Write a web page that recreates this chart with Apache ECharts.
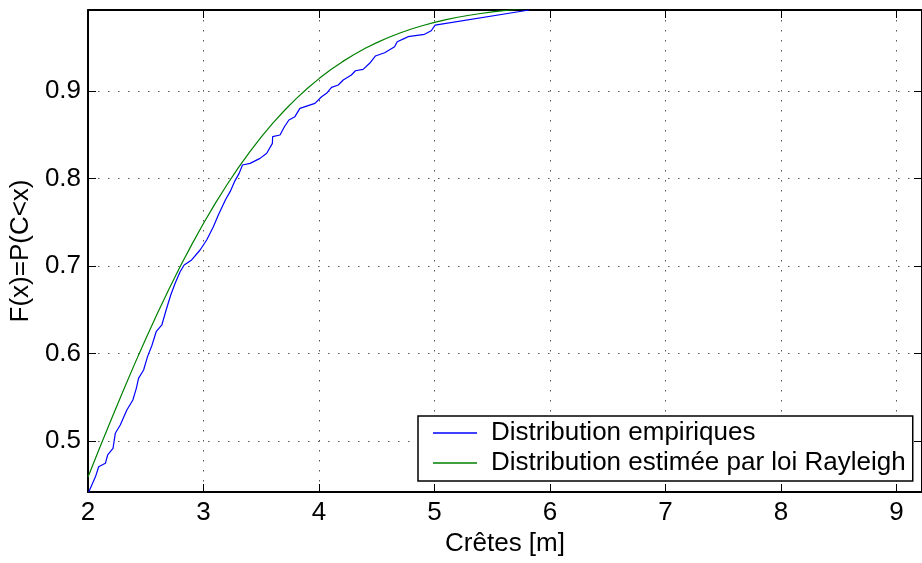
<!DOCTYPE html>
<html><head><meta charset="utf-8">
<script src="https://cdn.jsdelivr.net/npm/echarts@6/dist/echarts.min.js"></script>
<style>html,body{margin:0;padding:0;background:#fff}#c{width:922px;height:563px}</style>
</head><body><div id="c"></div>
<script>
const xTicks = [2, 3, 4, 5, 6, 7, 8, 9];
const yTicks = [0.5, 0.6, 0.7, 0.8, 0.9];
const seriesNames = ['Distribution empiriques', 'Distribution estimée par loi Rayleigh'];
const empX = [2.006,2.026,2.064,2.092,2.150,2.170,2.216,2.236,2.279,2.336,2.388,2.418,2.437,2.481,2.515,2.552,2.590,2.639,2.676,2.716,2.754,2.797,2.832,2.897,2.970,3.027,3.085,3.128,3.190,3.230,3.268,3.308,3.337,3.403,3.489,3.547,3.596,3.598,3.662,3.700,3.739,3.791,3.834,3.964,4.022,4.065,4.108,4.166,4.209,4.280,4.315,4.381,4.438,4.487,4.568,4.654,4.677,4.740,4.770,4.913,4.971,5.005,5.820];
const empY = [0.4417,0.4478,0.4590,0.4706,0.4745,0.4840,0.4916,0.5088,0.5183,0.5354,0.5469,0.5602,0.5716,0.5811,0.5964,0.6089,0.6249,0.6326,0.6497,0.6669,0.6802,0.6935,0.7011,0.7069,0.7183,0.7297,0.7449,0.7583,0.7758,0.7850,0.7964,0.8059,0.8154,0.8173,0.8230,0.8288,0.8402,0.8478,0.8497,0.8592,0.8669,0.8707,0.8802,0.8859,0.8935,0.8974,0.9042,0.9069,0.9126,0.9183,0.9232,0.9248,0.9317,0.9400,0.9438,0.9506,0.9563,0.9602,0.9621,0.9648,0.9689,0.9754,0.9926];
const rayX = [2.0,2.1,2.2,2.3,2.4,2.5,2.6,2.7,2.8,2.9,3.0,3.1,3.2,3.3,3.4,3.5,3.6,3.7,3.8,3.9,4.0,4.1,4.2,4.3,4.4,4.5,4.6,4.7,4.8,4.9,5.0,5.1,5.2,5.3,5.4,5.5,5.6,5.7,5.8,6.0];
const rayY = [0.4589,0.4919,0.5243,0.5561,0.5870,0.6169,0.6458,0.6734,0.6999,0.7250,0.7488,0.7713,0.7923,0.8121,0.8304,0.8475,0.8633,0.8777,0.8910,0.9032,0.9142,0.9243,0.9333,0.9415,0.9488,0.9553,0.9612,0.9663,0.9709,0.9749,0.9785,0.9816,0.9843,0.9866,0.9886,0.9904,0.9919,0.9932,0.9943,0.9960];

const FONT = "'Liberation Sans', Arial, Helvetica, sans-serif";
const FS = 26;
const X_MIN = 2, X_MAX = 9.22, Y_MIN = 0.4417, Y_MAX = 0.9926;

const gridLine = {show: true, lineStyle: {color: '#555', width: 1, type: [1.5, 8.5]}};
const axLine = {show: true, onZero: false, lineStyle: {color: '#000', width: 2}};
const tick = {show: true, inside: true, length: 8, lineStyle: {color: '#000', width: 1}};

const chart = echarts.init(document.getElementById('c'), null, {renderer: 'canvas'});
chart.setOption({
  animation: false,
  backgroundColor: '#fff',
  textStyle: {fontFamily: FONT},
  grid: {left: 84, top: 10, width: 838, height: 482, containLabel: false},
  xAxis: [{
    type: 'value', min: X_MIN, max: X_MAX, interval: 1,
    name: 'Crêtes [m]', nameLocation: 'middle', nameGap: 37,
    nameTextStyle: {fontSize: FS, color: '#000', fontFamily: FONT},
    axisLine: axLine, axisTick: tick, splitLine: gridLine,
    axisLabel: {show: true, margin: 8, fontSize: FS, color: '#000', fontFamily: FONT, showMaxLabel: false,
      formatter: v => (xTicks.indexOf(Math.round(v)) >= 0 && Math.abs(v - Math.round(v)) < 1e-6) ? String(Math.round(v)) : ''}
  }, {
    type: 'value', position: 'top', min: X_MIN, max: X_MAX, interval: 1,
    axisLine: axLine, axisTick: tick, splitLine: {show: false}, axisLabel: {show: false}
  }],
  yAxis: [{
    type: 'value', min: Y_MIN, max: Y_MAX,
    name: 'F(x)=P(C<x)', nameLocation: 'middle', nameGap: 49,
    nameTextStyle: {fontSize: FS, color: '#000', fontFamily: FONT},
    axisLine: axLine,
    axisTick: Object.assign({}, tick, {customValues: yTicks}),
    splitLine: gridLine,
    axisLabel: {show: true, margin: 7, fontSize: FS, color: '#000', fontFamily: FONT, customValues: yTicks,
      formatter: v => v.toFixed(1)}
  }, {
    type: 'value', position: 'right', min: Y_MIN, max: Y_MAX,
    axisLine: axLine, axisTick: Object.assign({}, tick, {customValues: yTicks}),
    splitLine: {show: false}, axisLabel: {show: false}
  }],
  legend: {
    orient: 'vertical', left: 418, top: 416,
    icon: 'rect', itemWidth: 44, itemHeight: 1.3, itemGap: 0,
    padding: [2, 7, 3, 15],
    backgroundColor: '#fff', borderColor: '#000', borderWidth: 1.5, borderRadius: 0,
    selectedMode: false,
    textStyle: {fontSize: FS, lineHeight: 30, color: '#000', fontFamily: FONT, padding: [0, 0, 0, 9]},
    data: seriesNames
  },
  series: [{
    name: seriesNames[0], type: 'line', xAxisIndex: 0, yAxisIndex: 0,
    data: empX.map((x, i) => [x, empY[i]]),
    symbol: 'none', clip: true,
    lineStyle: {color: '#0000ff', width: 1.2}, itemStyle: {color: '#0000ff'}
  }, {
    name: seriesNames[1], type: 'line', xAxisIndex: 0, yAxisIndex: 0,
    data: rayX.map((x, i) => [x, rayY[i]]),
    symbol: 'none', clip: true,
    lineStyle: {color: '#008000', width: 1.2}, itemStyle: {color: '#008000'}
  }]
});
</script>
</body></html>
